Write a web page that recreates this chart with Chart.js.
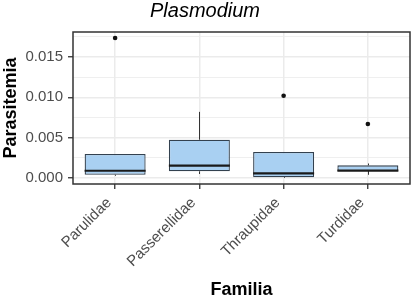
<!DOCTYPE html>
<html>
<head>
<meta charset="utf-8">
<script src="https://cdn.jsdelivr.net/npm/chart.js@4/dist/chart.umd.min.js"></script>
<style>
html,body{margin:0;padding:0;background:#fff;}
</style>
</head>
<body>
<canvas id="c" width="417" height="299"></canvas>
<script>
const categories = ['Parulidae', 'Passerellidae', 'Thraupidae', 'Turdidae'];
const q1 = [0.00041, 0.00083, 0.00010, 0.00087];
const median = [0.00090, 0.00153, 0.00058, 0.00092];
const q3 = [0.00298, 0.00475, 0.00323, 0.00157];
const whiskerLow = [0.00028, 0.00050, 0.00000, 0.00040];
const whiskerHigh = [0.00298, 0.00820, 0.00323, 0.00180];
const outliers = [[0.01736], [], [0.01020], [0.00670]];
const yTickValues = [0, 0.0025, 0.005, 0.0075, 0.01, 0.0125, 0.015, 0.0175];
const yMajorTicks = [0, 0.005, 0.01, 0.015];

const isMajor = v => yMajorTicks.some(m => Math.abs(m - v) < 1e-9);

const boxPlugin = {
  id: 'boxExtras',
  beforeDatasetsDraw(chart) {
    const ctx = chart.ctx, x = chart.scales.x, y = chart.scales.y;
    ctx.save();
    ctx.strokeStyle = '#333333';
    ctx.lineWidth = 1;
    categories.forEach((c, i) => {
      const px = Math.round(x.getPixelForValue(i)) + 0.5;
      ctx.beginPath();
      ctx.moveTo(px, y.getPixelForValue(whiskerLow[i]));
      ctx.lineTo(px, y.getPixelForValue(q1[i]));
      ctx.moveTo(px, y.getPixelForValue(q3[i]));
      ctx.lineTo(px, y.getPixelForValue(whiskerHigh[i]));
      ctx.stroke();
    });
    ctx.restore();
  },
  afterDatasetsDraw(chart) {
    const ctx = chart.ctx, x = chart.scales.x, y = chart.scales.y;
    const meta = chart.getDatasetMeta(0);
    ctx.save();
    categories.forEach((c, i) => {
      const bar = meta.data[i];
      const half = bar.width / 2;
      const px = x.getPixelForValue(i);
      const my = y.getPixelForValue(median[i]);
      ctx.strokeStyle = '#1a1a1a';
      ctx.lineWidth = 2.2;
      ctx.beginPath();
      ctx.moveTo(px - half, my);
      ctx.lineTo(px + half, my);
      ctx.stroke();
      ctx.fillStyle = '#111111';
      outliers[i].forEach(v => {
        ctx.beginPath();
        ctx.arc(px, y.getPixelForValue(v), 2.3, 0, Math.PI * 2);
        ctx.fill();
      });
    });
    const a = chart.chartArea;
    ctx.strokeStyle = '#333333';
    ctx.lineWidth = 1.5;
    ctx.strokeRect(a.left, a.top, a.right - a.left, a.bottom - a.top);
    ctx.restore();
  }
};

new Chart(document.getElementById('c'), {
  type: 'bar',
  data: {
    labels: categories,
    datasets: [{
      data: categories.map((c, i) => [q1[i], q3[i]]),
      backgroundColor: '#a9d0f2',
      borderColor: '#33414f',
      borderWidth: 1.3,
      borderSkipped: false,
      barPercentage: 0.724,
      categoryPercentage: 1
    }]
  },
  options: {
    responsive: false,
    animation: false,
    devicePixelRatio: 1,
    layout: { padding: { left: 0, right: 7, top: 0, bottom: 0 } },
    plugins: {
      legend: { display: false },
      tooltip: { enabled: false },
      title: {
        display: true,
        text: 'Plasmodium',
        color: '#000',
        font: { family: 'Liberation Sans, Arial, sans-serif', size: 20, style: 'italic', weight: 'normal', lineHeight: 1 },
        padding: { top: 1, bottom: 11 }
      }
    },
    scales: {
      x: {
        offset: true,
        grid: {
          offset: false,
          color: '#ebebeb',
          lineWidth: 1.5,
          tickColor: '#333333',
          tickWidth: 1.3,
          tickLength: 5
        },
        border: { display: false },
        ticks: {
          color: '#4d4d4d',
          font: { family: 'Liberation Sans, Arial, sans-serif', size: 15 },
          minRotation: 45,
          maxRotation: 45,
          padding: 5,
          labelOffset: -6,
          autoSkip: false
        },
        title: {
          display: true,
          text: 'Familia',
          color: '#000',
          font: { family: 'Liberation Sans, Arial, sans-serif', size: 18, weight: 'bold', lineHeight: 1 },
          padding: { top: 0, bottom: 0 }
        },
        afterFit(s) { s.height = 115; }
      },
      y: {
        min: -0.00074,
        max: 0.0181,
        afterBuildTicks(s) { s.ticks = yTickValues.map(v => ({ value: v })); },
        grid: {
          color: '#ebebeb',
          lineWidth: c => (c.tick && isMajor(c.tick.value)) ? 1.5 : 0.8,
          tickColor: c => (c.tick && isMajor(c.tick.value)) ? '#333333' : 'rgba(0,0,0,0)',
          tickWidth: 1.3,
          tickLength: 5
        },
        border: { display: false },
        ticks: {
          color: '#4d4d4d',
          font: { family: 'Liberation Sans, Arial, sans-serif', size: 15 },
          padding: 5,
          callback: v => isMajor(v) ? v.toFixed(3) : ''
        },
        title: {
          display: true,
          text: 'Parasitemia',
          color: '#000',
          font: { family: 'Liberation Sans, Arial, sans-serif', size: 18, weight: 'bold' },
          padding: { top: 0, bottom: 0 }
        },
        afterFit(s) { s.width = 73; }
      }
    }
  },
  plugins: [boxPlugin]
});
</script>
</body>
</html>
